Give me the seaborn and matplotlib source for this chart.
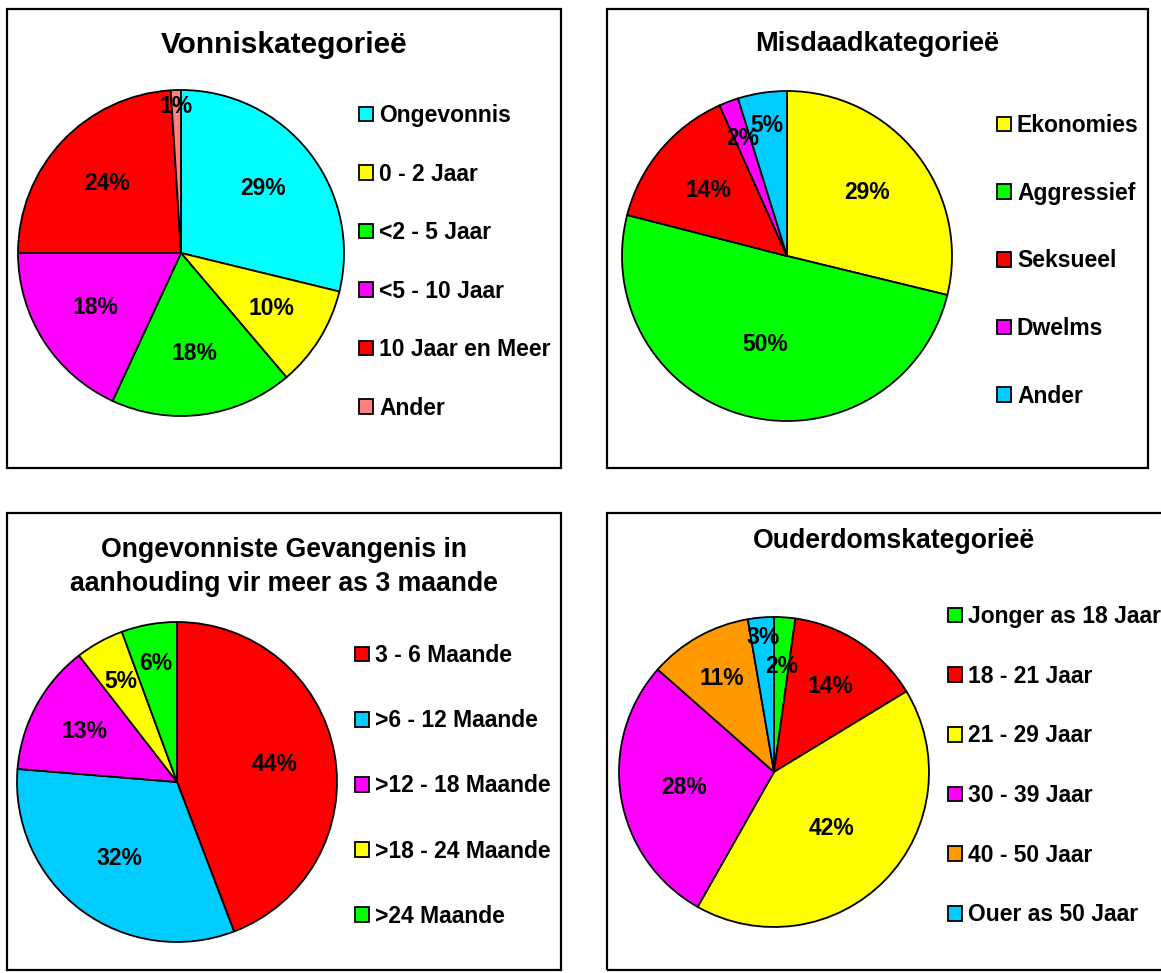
import matplotlib
matplotlib.use("Agg")
import numpy as np
import matplotlib.pyplot as plt
import seaborn as sns
from matplotlib.patches import Rectangle

sns.set_theme(style="white")
plt.rcParams["font.family"] = ["Liberation Sans", "DejaVu Sans"]
plt.rcParams["font.weight"] = "bold"
plt.rcParams["text.color"] = "black"

# ------------------ DATA ------------------
vonnis_labels = ["Ongevonnis", "0 - 2 Jaar", "<2 - 5 Jaar", "<5 - 10 Jaar", "10 Jaar en Meer", "Ander"]
vonnis_values = [28.8, 10.0, 18.1, 18.1, 24.0, 1.0]
vonnis_colors = ["#00FFFF", "#FFFF00", "#00FF00", "#FF00FF", "#FF0000", "#FF8080"]

misdaad_labels = ["Ekonomies", "Aggressief", "Seksueel", "Dwelms", "Ander"]
misdaad_values = [28.8, 50.2, 14.3, 1.9, 4.8]
misdaad_colors = ["#FFFF00", "#00FF00", "#FF0000", "#FF00FF", "#00CCFF"]

aanhouding_labels = ["3 - 6 Maande", ">6 - 12 Maande", ">12 - 18 Maande", ">18 - 24 Maande", ">24 Maande"]
aanhouding_values = [44.2, 32.1, 13.2, 4.9, 5.6]
aanhouding_colors = ["#FF0000", "#00CCFF", "#FF00FF", "#FFFF00", "#00FF00"]

ouderdom_labels = ["Jonger as 18 Jaar", "18 - 21 Jaar", "21 - 29 Jaar", "30 - 39 Jaar", "40 - 50 Jaar", "Ouer as 50 Jaar"]
ouderdom_values = [2.2, 14.1, 41.9, 28.3, 10.8, 2.7]
ouderdom_colors = ["#00FF00", "#FF0000", "#FFFF00", "#FF00FF", "#FF9900", "#00CCFF"]

W, H = 1161, 973
fig = plt.figure(figsize=(W / 100, H / 100), dpi=100)
fig.patch.set_facecolor("white")


def fx(x):
    return x / W


def fy(y):
    return 1 - y / H


def draw_panel(box, title, title_y, title_size, center, radius, values, labels, colors,
               pct_r, leg_xy, leg_spacing):
    x0, y0, x1, y1 = box
    fig.patches.append(Rectangle((fx(x0), fy(y1)), fx(x1 - x0), (y1 - y0) / H,
                                 transform=fig.transFigure, fill=False,
                                 edgecolor="black", linewidth=1.6, zorder=0))
    fig.text(fx((x0 + x1) / 2), fy(title_y), title, ha="center", va="center",
             fontsize=title_size, fontweight="bold", color="black", linespacing=1.42)

    cx, cy = center
    side = 2 * radius * 1.02
    ax = fig.add_axes([fx(cx - side / 2), fy(cy + side / 2), side / W, side / H])
    wedges, texts, autotexts = ax.pie(values, colors=colors, startangle=90,
                                      counterclock=False, radius=1,
                                      autopct="%.0f%%", pctdistance=0.62,
                                      wedgeprops=dict(edgecolor="black", linewidth=1.3),
                                      textprops=dict(fontsize=16.5, fontweight="bold", color="black"))
    for w, t, r in zip(wedges, autotexts, pct_r):
        mid = np.deg2rad((w.theta1 + w.theta2) / 2)
        t.set_position((r * np.cos(mid), r * np.sin(mid)))
    ax.set_xlim(-1.02, 1.02)
    ax.set_ylim(-1.02, 1.02)
    ax.set_aspect("equal")
    ax.axis("off")

    leg = fig.legend(wedges, labels, loc="upper left",
                     bbox_to_anchor=(fx(leg_xy[0]), fy(leg_xy[1])),
                     bbox_transform=fig.transFigure, frameon=False, fontsize=16.5,
                     labelspacing=leg_spacing, handlelength=0.62, handleheight=0.62,
                     handletextpad=0.25, borderpad=0, borderaxespad=0)
    for t in leg.get_texts():
        t.set_color("black")


draw_panel((7, 9, 561, 468), "Vonniskategorieë", 45, 21.5, (181, 253), 163,
           vonnis_values, vonnis_labels, vonnis_colors,
           [0.64, 0.65, 0.62, 0.62, 0.62, 0.9], (359, 104), 1.55)

draw_panel((607, 9, 1148, 468), "Misdaadkategorieë", 44, 19.5, (787, 256), 165,
           misdaad_values, misdaad_labels, misdaad_colors,
           [0.62, 0.55, 0.62, 0.76, 0.8], (997, 114), 1.95)

draw_panel((7, 513, 561, 970), "Ongevonniste Gevangenis in\naanhouding vir meer as 3 maande", 567,
           19.2, (177, 782), 160,
           aanhouding_values, aanhouding_labels, aanhouding_colors,
           [0.62, 0.6, 0.66, 0.72, 0.75], (355, 644), 1.84)

draw_panel((607, 513, 1180, 970), "Ouderdomskategorieë", 541, 19.2, (774, 772), 155,
           ouderdom_values, ouderdom_labels, ouderdom_colors,
           [0.68, 0.66, 0.52, 0.59, 0.69, 0.87], (948, 605), 1.60)

fig.savefig("out.png", dpi=100, facecolor="white")
